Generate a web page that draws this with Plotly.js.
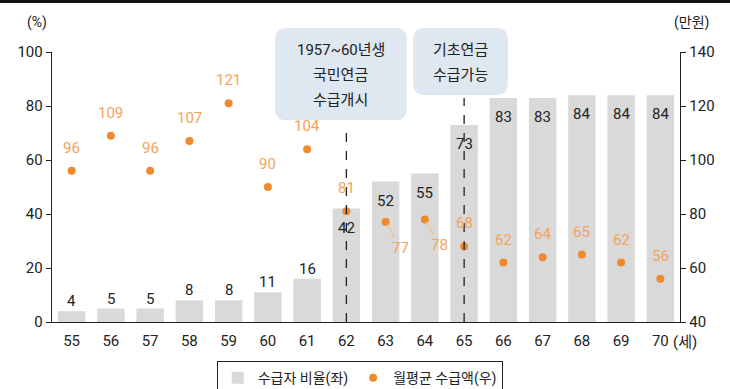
<!DOCTYPE html>
<html><head><meta charset="utf-8">
<script src="https://cdn.plot.ly/plotly-3.0.1.min.js"></script>
<style>html,body{margin:0;padding:0;background:#fff;overflow:hidden;} #top{height:3px;background:#111;} #chart{width:730px;height:386px;}</style>
</head><body><div id="top"></div><div id="chart"></div>
<script>
const ages = ['55','56','57','58','59','60','61','62','63','64','65','66','67','68','69','70'];
const ratio = [4,5,5,8,8,11,16,42,52,55,73,83,83,84,84,84];
const amount = [96,109,96,107,121,90,104,81,77,78,68,62,64,65,62,56];
const leftTicks = [0,20,40,60,80,100];
const rightTicks = [40,60,80,100,120,140];
const seriesNames = ['수급자 비율(좌)', '월평균 수급액(우)'];
const box1Lines = ['1957~60년생','국민연금','수급개시'];
const box2Lines = ['기초연금','수급가능'];

const FONT = 'Roboto, "Noto Sans CJK KR", sans-serif';
const barColor = '#d9d9d9';
const dotColor = '#ef8a2c';
const dotLabelColor = '#f2a35a';
const boxColor = '#dfe7f1';

const traces = [
  {type:'bar', x:ages, y:ratio, name:seriesNames[0], marker:{color:barColor}, yaxis:'y', hoverinfo:'skip'},
  {type:'scatter', mode:'markers', x:ages, y:amount, name:seriesNames[1], yaxis:'y2',
   marker:{color:dotColor, size:8}, hoverinfo:'skip'}
];

const annotations = [];
// bar labels (x given as category index)
ratio.forEach((v,i)=>{
  const inside = i >= 7;
  annotations.push({x:i, y:v, xref:'x', yref:'y', text:String(v), showarrow:false,
    yanchor:'middle', yshift: inside ? -19 : 10, font:{family:FONT, size:15, color:'#222'}});
});
// dot labels
amount.forEach((v,i)=>{
  const leader = (ages[i]==='63' || ages[i]==='64');
  if (leader) {
    annotations.push({x:i, y:v, xref:'x', yref:'y2', text:String(v), showarrow:true,
      arrowhead:0, arrowwidth:1.5, arrowcolor:'#f6c08f', ax:15, ay:26, standoff:3,
      font:{family:FONT, size:15, color:dotLabelColor}});
  } else {
    annotations.push({x:i, y:v, xref:'x', yref:'y2', text:String(v), showarrow:false,
      yanchor:'middle', yshift:23, font:{family:FONT, size:15, color:dotLabelColor}});
  }
});
// box texts
box1Lines.forEach((t,k)=>{
  annotations.push({xref:'paper', yref:'paper', x:0.460, y:1.007 - k*0.0926, yanchor:'middle', text:t, showarrow:false,
    font:{family:FONT, size:15, color:'#222'}});
});
box2Lines.forEach((t,k)=>{
  annotations.push({xref:'paper', yref:'paper', x:0.650, y:1.007 - k*0.0926, yanchor:'middle', text:t, showarrow:false,
    font:{family:FONT, size:15, color:'#222'}});
});
// unit labels
annotations.push({xref:'paper', yref:'paper', x:-0.043, y:1.111, yanchor:'middle', text:'(%)', showarrow:false, font:{family:FONT, size:14, color:'#222'}});
annotations.push({xref:'paper', yref:'paper', x:1.05, y:1.111, yanchor:'middle', text:'(만원)', showarrow:false, font:{family:FONT, size:14, color:'#222'}});
annotations.push({xref:'paper', yref:'paper', x:0.985, xanchor:'left', y:-0.075, yanchor:'middle', text:'(세)', showarrow:false, font:{family:FONT, size:15, color:'#222'}});

function roundRect(x0,y0,x1,y1,rx,ry){
  return `M${x0+rx},${y0} L${x1-rx},${y0} Q${x1},${y0} ${x1},${y0+ry} L${x1},${y1-ry} Q${x1},${y1} ${x1-rx},${y1} L${x0+rx},${y1} Q${x0},${y1} ${x0},${y1-ry} L${x0},${y0+ry} Q${x0},${y0} ${x0+rx},${y0} Z`;
}
const rx = 0.018, ry = 0.045;
const shapes = [
  {type:'path', xref:'paper', yref:'paper', path:roundRect(0.355,0.748,0.565,1.089,rx,ry), fillcolor:boxColor, line:{width:0}, layer:'below'},
  {type:'path', xref:'paper', yref:'paper', path:roundRect(0.575,0.841,0.726,1.089,rx,ry), fillcolor:boxColor, line:{width:0}, layer:'below'},
  {type:'line', xref:'x', yref:'y', x0:7, x1:7, y0:0, y1:72, line:{color:'#222', width:1.3, dash:'dash'}},
  {type:'line', xref:'x', yref:'y', x0:10, x1:10, y0:0, y1:83, line:{color:'#222', width:1.3, dash:'dash'}}
];

const layout = {
  width:730, height:386,
  margin:{l:52, r:50, t:49, b:67, autoexpand:false},
  paper_bgcolor:'#fff', plot_bgcolor:'#fff',
  font:{family:FONT, size:15, color:'#222'},
  bargap:0.3,
  showlegend:true,
  legend:{orientation:'h', x:0.49, xanchor:'center', y:-0.145, yanchor:'top',
    bordercolor:'#222', borderwidth:1, font:{family:FONT, size:14, color:'#222'}, itemwidth:30},
  xaxis:{type:'category', range:[-0.5,15.5], showline:true, linecolor:'#222', linewidth:1.3,
    ticks:'', ticklabelstandoff:5, showgrid:false, zeroline:false, tickfont:{family:FONT, size:15, color:'#222'}},
  yaxis:{range:[0,100], tickvals:leftTicks, showline:true, linecolor:'#222', linewidth:1.3,
    ticks:'outside', ticklen:5, tickcolor:'#222', showgrid:false, zeroline:false,
    tickfont:{family:FONT, size:15, color:'#222'}},
  yaxis2:{range:[40,140], tickvals:rightTicks, overlaying:'y', side:'right', showline:true,
    linecolor:'#222', linewidth:1.3, ticks:'outside', ticklen:5, tickcolor:'#222',
    showgrid:false, zeroline:false, tickfont:{family:FONT, size:15, color:'#222'}},
  annotations:annotations,
  shapes:shapes
};

Plotly.newPlot('chart', traces, layout, {displayModeBar:false, staticPlot:true});
</script>
</body></html>
